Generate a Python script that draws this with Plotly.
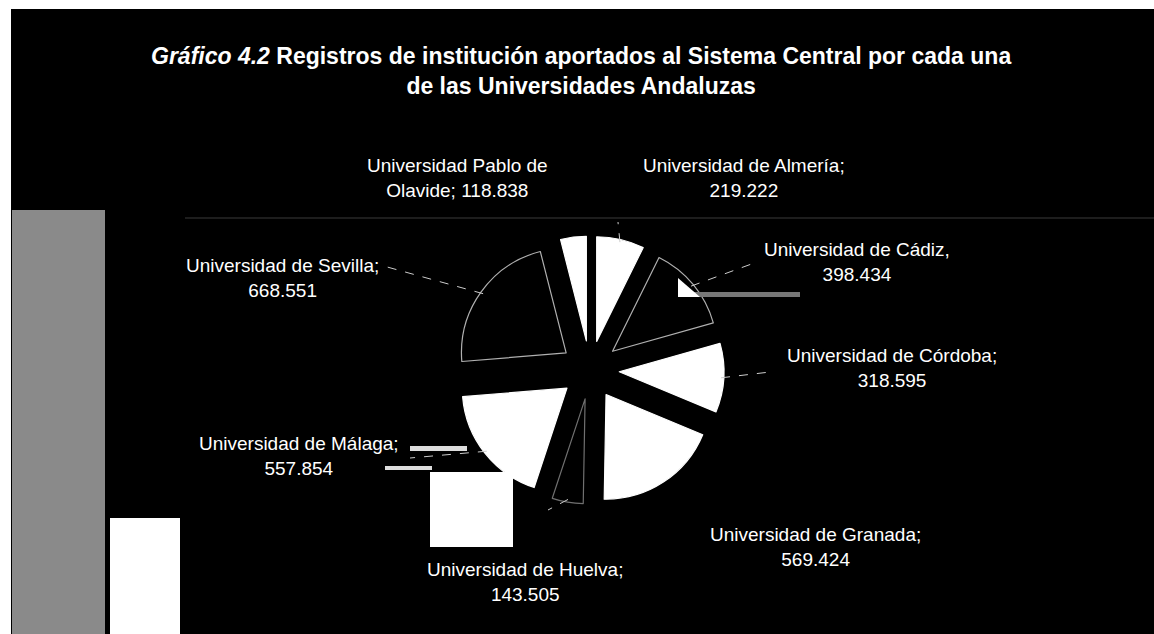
import math
import plotly.graph_objects as go

# ---- data ----
universidades = [
    "Universidad de Almería",
    "Universidad de Cádiz",
    "Universidad de Córdoba",
    "Universidad de Granada",
    "Universidad de Huelva",
    "Universidad de Málaga",
    "Universidad de Sevilla",
    "Universidad Pablo de Olavide",
]
registros = [219222, 398434, 318595, 569424, 143505, 557854, 668551, 118838]
separadores = [";", ",", ";", ";", ";", ";", ";", ";"]
titulo_l1 = "<i>Gráfico 4.2</i> Registros de institución aportados al Sistema Central por cada una"
titulo_l2 = "de las Universidades Andaluzas"

# ---- styling / layout constants ----
W, H = 1154, 634
colores = ["white", "black", "white", "white", "black", "white", "black", "white"]
bordes = ["white", "#b0b0b0", "white", "white", "#707070", "white", "#b0b0b0", "white"]
pull = 0.28
cx, cy, R = 590, 370, 134  # pie centre & outer extent in px
label_pos = [(744, 178), (857, 262), (892, 368), (815, 547),
             (525, 582), (299, 456), (282, 278), (457, 178)]
FONT = "Liberation Sans, Arial, sans-serif"


def fmt(v):
    return f"{v:,}".replace(",", ".")


def px(x, y):
    return x / W, 1 - y / H


fig = go.Figure(go.Pie(
    labels=universidades,
    values=registros,
    sort=False,
    direction="clockwise",
    rotation=0,
    pull=[pull] * len(registros),
    marker=dict(colors=colores, line=dict(color=bordes, width=1.2)),
    textinfo="none",
    hoverinfo="label+value",
    showlegend=False,
    domain=dict(x=[(cx - R) / W, (cx + R) / W], y=[1 - (cy + R) / H, 1 - (cy - R) / H]),
))

annotations = []
for name, val, sep, (lx, ly) in zip(universidades, registros, separadores, label_pos):
    if name.endswith("Olavide"):
        words = name.split(" ")
        txt = " ".join(words[:-1]) + "<br>" + words[-1] + sep + " " + fmt(val)
    else:
        txt = name + sep + "<br>" + fmt(val)
    x, y = px(lx, ly)
    annotations.append(dict(x=x, y=y, xref="paper", yref="paper", text=txt,
                            showarrow=False, xanchor="center", yanchor="middle",
                            align="center", font=dict(family=FONT, size=19, color="white")))

x, y = px(581, 71)
annotations.append(dict(x=x, y=y, xref="paper", yref="paper",
                        text="<b>" + titulo_l1 + "<br>" + titulo_l2 + "</b>",
                        showarrow=False, xanchor="center", yanchor="middle", align="center",
                        font=dict(family=FONT, size=23, color="white")))

# leader lines from slice edges (computed from the data) towards labels
total = sum(registros)
r_slice = R / (1 + pull)
shapes = []
acc = 0
leader_ends = {1: (757, 262), 2: (770, 372), 4: (548, 510), 5: (410, 458), 6: (380, 265), 0: (618, 222)}
for i, v in enumerate(registros):
    mid = (acc + v / 2) / total * 2 * math.pi
    acc += v
    if i not in leader_ends:
        continue
    rr = r_slice * (1 + pull) * 0.98
    sx = cx + rr * math.sin(mid)
    sy = cy - rr * math.cos(mid)
    ex, ey = leader_ends[i]
    x0, y0 = px(sx, sy)
    x1, y1 = px(ex, ey)
    shapes.append(dict(type="line", xref="paper", yref="paper", x0=x0, y0=y0, x1=x1, y1=y1,
                       line=dict(color="#cccccc", width=1, dash="dash")))


# scan frame artefacts
def rect(x0, y0, x1, y1, color):
    a, b = px(x0, y0)
    c, d = px(x1, y1)
    return dict(type="rect", xref="paper", yref="paper", x0=a, y0=b, x1=c, y1=d,
                line=dict(width=0), fillcolor=color, layer="above")


shapes += [
    rect(0, 0, W, 9, "white"),
    rect(0, 0, 11, H, "white"),
    rect(12, 210, 105, H, "#8a8a8a"),
    rect(110, 518, 180, H, "white"),
    rect(430, 472, 513, 547, "white"),
    rect(410, 446, 467, 451, "#dddddd"),
    rect(385, 466, 432, 470, "#dddddd"),
    rect(690, 292, 800, 297, "#777777"),
]
ta, tb = px(678, 278)
tc, td = px(700, 297)
shapes.append(dict(type="path", xref="paper", yref="paper",
                   path=f"M {ta},{tb} L {tc},{td} L {ta},{td} Z",
                   fillcolor="white", line=dict(width=0)))
a, b = px(185, 218)
c, d = px(W, 218)
shapes.append(dict(type="line", xref="paper", yref="paper", x0=a, y0=b, x1=c, y1=d,
                   line=dict(color="#3a3a3a", width=1)))

fig.update_layout(
    width=W, height=H,
    paper_bgcolor="black", plot_bgcolor="black",
    margin=dict(l=0, r=0, t=0, b=0),
    annotations=annotations,
    shapes=shapes,
    font=dict(family=FONT, color="white"),
)

fig.write_html("out.html", config={"displayModeBar": False},
               post_script="document.body.style.margin='0px';document.body.style.overflow='hidden';")
